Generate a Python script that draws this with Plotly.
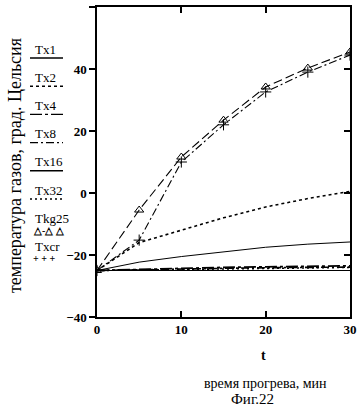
import plotly.graph_objects as go

# ---- data ----
t = [0, 5, 10, 15, 20, 25, 30]
Tx1 = [-25, -22.3, -20.5, -19.0, -17.5, -16.5, -15.8]
Tx2 = [-25, -16.0, -12.0, -8.0, -4.5, -1.8, 0.5]
Tx4 = [-25, -24.6, -24.3, -24.0, -23.8, -23.6, -23.5]
Tx8 = [-25, -24.7, -24.5, -24.3, -24.1, -24.0, -23.9]
Tx16 = [-25, -25, -25, -25, -25, -25, -25]
Tx32 = [-25, -24.8, -24.6, -24.4, -24.2, -24.1, -24.0]
Tkg25 = [-25, -5.5, 11.6, 23.5, 34.2, 40.3, 45.5]
Txcr = [-25, -15.2, 10.0, 22.0, 32.6, 39.0, 44.5]

x_ticks = [0, 10, 20, 30]
y_ticks = [-40, -20, 0, 20, 40, 60]

names = ["Tx1", "Tx2", "Tx4", "Tx8", "Tx16", "Tx32", "Tkg25", "Txcr"]
series = [Tx1, Tx2, Tx4, Tx8, Tx16, Tx32, Tkg25, Txcr]

# ---- styles ----
dashes = ["solid", "3px,3px", "12px,3px,3px,3px", "8px,3px,2px,3px",
          "solid", "2px,3px", "9px,4px", "8px,3px,2px,3px"]
widths = [1, 1.6, 1.8, 1.6, 1.2, 1.6, 1.1, 1.1]
modes = ["lines"] * 6 + ["lines+markers", "lines+markers"]
symbols = [None] * 6 + ["triangle-up-open", "cross-thin"]

FONT = "Liberation Serif"
BLACK = "#000000"

fig = go.Figure()
for name, y, d, w, m, s in zip(names, series, dashes, widths, modes, symbols):
    kw = {}
    if s:
        kw["marker"] = dict(symbol=s, size=8, color=BLACK,
                            line=dict(color=BLACK, width=1))
    fig.add_trace(go.Scatter(x=t, y=y, name=name, mode=m,
                             line=dict(color=BLACK, width=w, dash=d),
                             showlegend=False, **kw))

# invisible trace so the right-hand (inside-tick) axis is drawn
fig.add_trace(go.Scatter(x=[None], y=[None], yaxis="y2", showlegend=False,
                         hoverinfo="skip"))

# plot-area geometry (px) for placing legend / labels in paper coords
L, R, T, B, W, H = 97, 13, 7, 97, 363, 414
pw, ph = W - L - R, H - T - B


def px(xp):
    return (xp - L) / pw


def py(yp):
    return (H - B - yp) / ph


# ---- hand-made legend (name above sample, like the reference) ----
annotations = []
shapes = []
legend_samples = [None, None, None, None, None, None,
                  "△-△\u00a0△", "+\u00a0+\u00a0+"]
for i, (name, d) in enumerate(zip(names, dashes)):
    yc = 49 + 28.2 * i
    annotations.append(dict(x=px(33), y=py(yc), xref="paper", yref="paper",
                            text=name, showarrow=False, xanchor="left",
                            yanchor="middle",
                            font=dict(family=FONT, size=13, color=BLACK)))
    if legend_samples[i] is None:
        shapes.append(dict(type="line", xref="paper", yref="paper",
                           x0=px(30), x1=px(63), y0=py(yc + 9), y1=py(yc + 9),
                           line=dict(color=BLACK, width=1.4, dash=d)))
    else:
        annotations.append(dict(x=px(31), y=py(yc + 12), xref="paper",
                                yref="paper", text=legend_samples[i],
                                showarrow=False, xanchor="left",
                                yanchor="middle",
                                font=dict(family=FONT, size=10, color=BLACK,
                                          weight="bold")))

annotations += [
    dict(x=px(15), y=py(166), xref="paper", yref="paper", textangle=-90,
         xanchor="center", yanchor="middle",
         text="температура газов, град. Цельсия", showarrow=False,
         font=dict(family=FONT, size=18, color=BLACK)),
    dict(x=px(263), y=py(355), xref="paper", yref="paper", text="t",
         xanchor="center", yanchor="middle", showarrow=False,
         font=dict(family=FONT, size=14, color=BLACK, weight="bold")),
    dict(x=px(265), y=py(383), xref="paper", yref="paper",
         xanchor="center", yanchor="middle",
         text="время прогрева, мин", showarrow=False,
         font=dict(family=FONT, size=14, color=BLACK)),
    dict(x=px(252), y=py(399), xref="paper", yref="paper", text="Фиг.22",
         xanchor="center", yanchor="middle", showarrow=False,
         font=dict(family=FONT, size=15, color=BLACK)),
]

axis_common = dict(showgrid=False, zeroline=False, showline=True,
                   linecolor=BLACK, linewidth=1.5, tickcolor=BLACK,
                   tickwidth=1.5, ticklen=6, automargin=False,
                   tickfont=dict(family=FONT, size=13, color=BLACK,
                                 weight="bold"))

fig.update_layout(
    width=W, height=H,
    margin=dict(l=L, r=R, t=T, b=B),
    paper_bgcolor="white", plot_bgcolor="white",
    showlegend=False,
    xaxis=dict(range=[0, 30], tickvals=x_ticks, ticks="inside",
               mirror="ticks", **axis_common),
    yaxis=dict(range=[-40, 60], tickvals=y_ticks, ticks="outside",
               mirror=True, **axis_common),
    yaxis2=dict(range=[-40, 60], overlaying="y", side="right",
                tickvals=y_ticks, ticks="inside", ticklen=6, tickwidth=1.5,
                tickcolor=BLACK, showticklabels=False, showline=False,
                showgrid=False, zeroline=False, automargin=False),
    annotations=annotations,
    shapes=shapes,
)

fig.write_html("out.html", config={"displayModeBar": False},
               post_script="document.body.style.margin='0';")
